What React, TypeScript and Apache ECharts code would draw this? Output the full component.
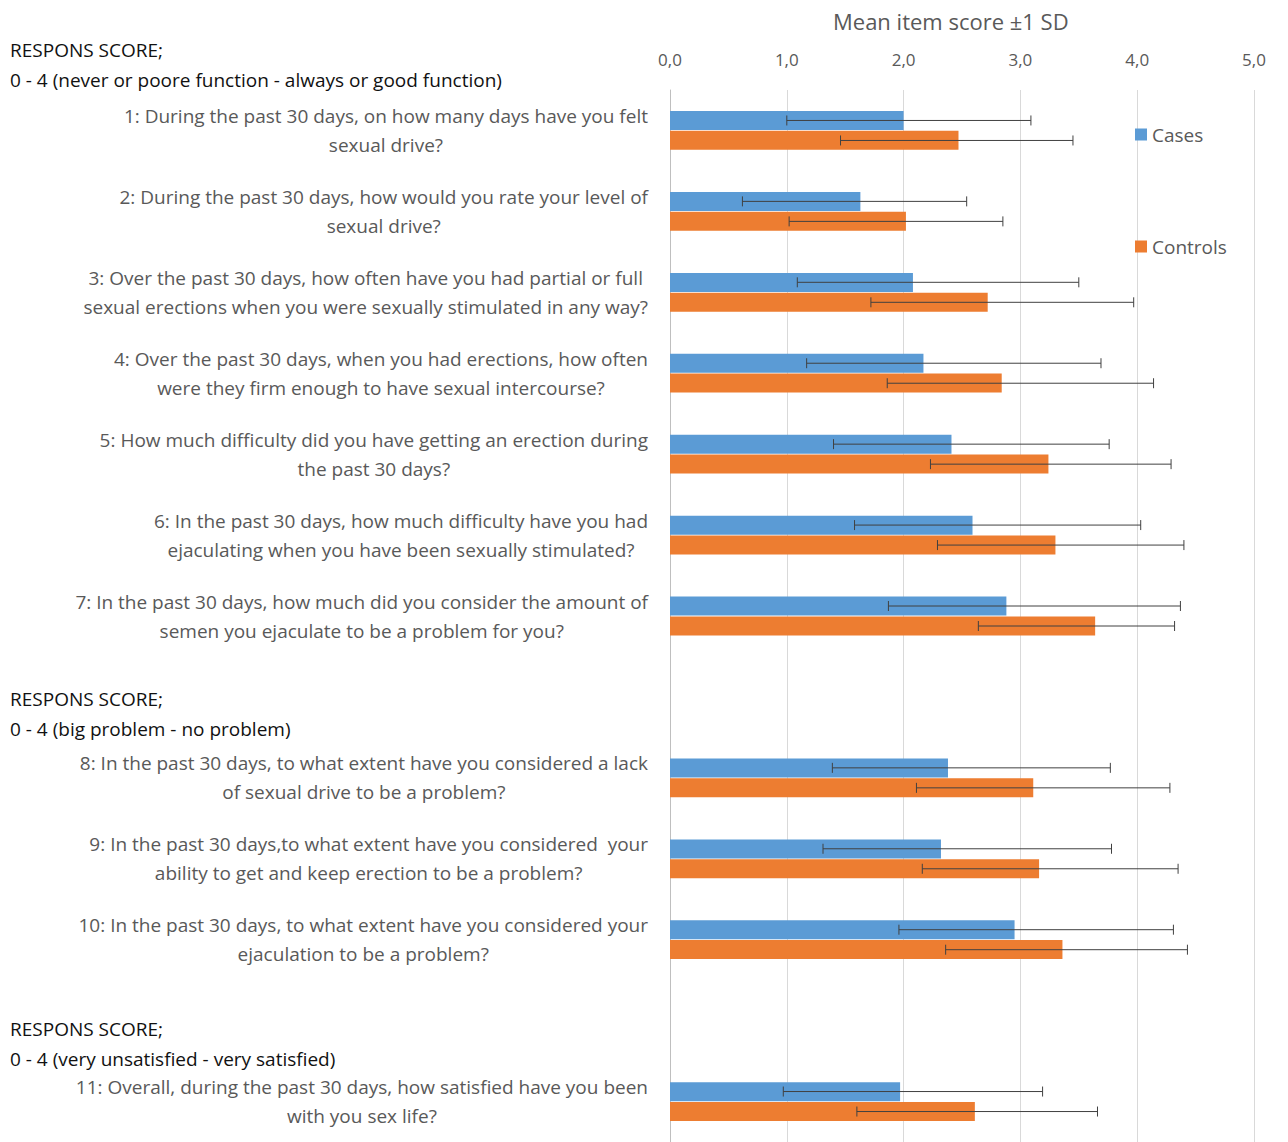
import { useEffect, useRef } from 'react';
import * as echarts from 'echarts';

const questions = [
  '1: During the past 30 days, on how many days have you felt\nsexual drive?',
  '2: During the past 30 days, how would you rate your level of\nsexual drive?',
  '3: Over the past 30 days, how often have you had partial or full\nsexual erections when you were sexually stimulated in any way?',
  '4: Over the past 30 days, when you had erections, how often\nwere they firm enough to have sexual intercourse?',
  '5: How much difficulty did you have getting an erection during\nthe past 30 days?',
  '6: In the past 30 days, how much difficulty have you had\nejaculating when you have been sexually stimulated?',
  '7: In the past 30 days, how much did you consider the amount of\nsemen you ejaculate to be a problem for you?',
  '',
  '8: In the past 30 days, to what extent have you considered a lack\nof sexual drive to be a problem?',
  '9: In the past 30 days,to what extent have you considered  your\nability to get and keep erection to be a problem?',
  '10: In the past 30 days, to what extent have you considered your\nejaculation to be a problem?',
  '',
  '11: Overall, during the past 30 days, how satisfied have you been\nwith you sex life?',
];

const casesMean = [2.0, 1.63, 2.08, 2.17, 2.41, 2.59, 2.88, null, 2.38, 2.32, 2.95, null, 1.97];
const casesLow = [1.0, 0.62, 1.09, 1.17, 1.4, 1.58, 1.87, null, 1.39, 1.31, 1.96, null, 0.97];
const casesHigh = [3.09, 2.54, 3.5, 3.69, 3.76, 4.03, 4.37, null, 3.77, 3.78, 4.31, null, 3.19];
const controlsMean = [2.47, 2.02, 2.72, 2.84, 3.24, 3.3, 3.64, null, 3.11, 3.16, 3.36, null, 2.61];
const controlsLow = [1.46, 1.02, 1.72, 1.86, 2.23, 2.29, 2.64, null, 2.11, 2.16, 2.36, null, 1.6];
const controlsHigh = [3.45, 2.85, 3.97, 4.14, 4.29, 4.4, 4.32, null, 4.28, 4.35, 4.43, null, 3.66];

const headers = [
  { y: 52, lines: ['RESPONS SCORE;', '0 - 4 (never or poore function - always or good function)'] },
  { y: 701, lines: ['RESPONS SCORE;', '0 - 4 (big problem - no problem)'] },
  { y: 1031, lines: ['RESPONS SCORE;', '0 - 4 (very unsatisfied - very satisfied)'] },
];

const FONT = '"Open Sans", "Noto Sans", sans-serif';
const LABEL_FONT = `19px ${FONT}`;

function errorSeries(name: string, low: (number | null)[], high: (number | null)[], offset: number) {
  const data = low.map((l, i) => (l == null ? null : [i, l, high[i]])).filter(Boolean);
  return {
    name: name + ' SD',
    type: 'custom',
    silent: true,
    data,
    encode: { y: 0, x: [1, 2] },
    renderItem: (_params: any, api: any) => {
      const i = api.value(0);
      const a = api.coord([api.value(1), i]);
      const b = api.coord([api.value(2), i]);
      const y = a[1] + offset;
      const style = { stroke: '#404040', lineWidth: 1 };
      return {
        type: 'group',
        children: [
          { type: 'line', shape: { x1: a[0], y1: y, x2: b[0], y2: y }, style },
          { type: 'line', shape: { x1: a[0], y1: y - 5, x2: a[0], y2: y + 5 }, style },
          { type: 'line', shape: { x1: b[0], y1: y - 5, x2: b[0], y2: y + 5 }, style },
        ],
      };
    },
    z: 5,
  };
}

export default function App() {
  const ref = useRef<HTMLDivElement>(null);

  useEffect(() => {
    document.body.style.margin = '0';
    if (!ref.current) return;
    const chart = echarts.init(ref.current, undefined, { renderer: 'svg' });

    chart.setOption({
      animation: false,
      backgroundColor: '#fff',
      textStyle: { fontFamily: FONT },
      grid: { left: 670, width: 584, top: 90, height: 1063 },
      legend: [
        {
          data: ['Cases'],
          left: 1130,
          top: 120,
          itemWidth: 12,
          itemHeight: 12,
          itemGap: 4,
          icon: 'rect',
          textStyle: { fontSize: 19, color: '#595959', fontFamily: FONT },
        },
        {
          data: ['Controls'],
          left: 1130,
          top: 232,
          itemWidth: 12,
          itemHeight: 12,
          itemGap: 4,
          icon: 'rect',
          textStyle: { fontSize: 19, color: '#595959', fontFamily: FONT },
        },
      ],
      xAxis: {
        type: 'value',
        position: 'top',
        min: 0,
        max: 5,
        interval: 1,
        axisLine: { show: false },
        axisTick: { show: false },
        axisLabel: {
          color: '#595959',
          fontSize: 17,
          margin: 22,
          formatter: (v: number) => v.toFixed(1).replace('.', ','),
        },
        splitLine: { lineStyle: { color: '#d9d9d9' } },
      },
      yAxis: {
        type: 'category',
        inverse: true,
        data: questions,
        axisLine: { lineStyle: { color: '#bfbfbf' } },
        axisTick: { show: false },
        axisLabel: { show: false },
      },
      series: [
        {
          name: 'Cases',
          type: 'bar',
          data: casesMean,
          barWidth: 19,
          barGap: '4%',
          itemStyle: { color: '#5b9bd5' },
        },
        {
          name: 'Controls',
          type: 'bar',
          data: controlsMean,
          barWidth: 19,
          barGap: '4%',
          itemStyle: { color: '#ed7d31' },
        },
        errorSeries('Cases', casesLow, casesHigh, -10),
        errorSeries('Controls', controlsLow, controlsHigh, 10),
      ],
    });

    // category labels: lines centred on each other, right edge at the axis
    const ctx = document.createElement('canvas').getContext('2d')!;
    ctx.font = LABEL_FONT;
    const graphics: any[] = [
      {
        type: 'text',
        left: 833,
        top: 10,
        style: { text: 'Mean item score ±1 SD', font: `22px ${FONT}`, fill: '#595959' },
      },
    ];
    headers.forEach((h) => {
      h.lines.forEach((t, k) => {
        graphics.push({
          type: 'text',
          left: 10,
          top: h.y - 12 + k * 30,
          style: { text: t, font: `19px ${FONT}`, fill: '#111' },
        });
      });
    });
    questions.forEach((q, i) => {
      if (!q) return;
      const w = Math.max(...q.split('\n').map((l) => ctx.measureText(l).width));
      const y = chart.convertToPixel({ yAxisIndex: 0 }, i) as number;
      graphics.push({
        type: 'text',
        x: 648 - w / 2,
        y,
        style: {
          text: q,
          font: LABEL_FONT,
          fill: '#595959',
          align: 'center',
          verticalAlign: 'middle',
          lineHeight: 29,
        },
      });
    });
    chart.setOption({ graphic: graphics });

    return () => chart.dispose();
  }, []);

  return <div ref={ref} style={{ width: 1288, height: 1142 }} />;
}
